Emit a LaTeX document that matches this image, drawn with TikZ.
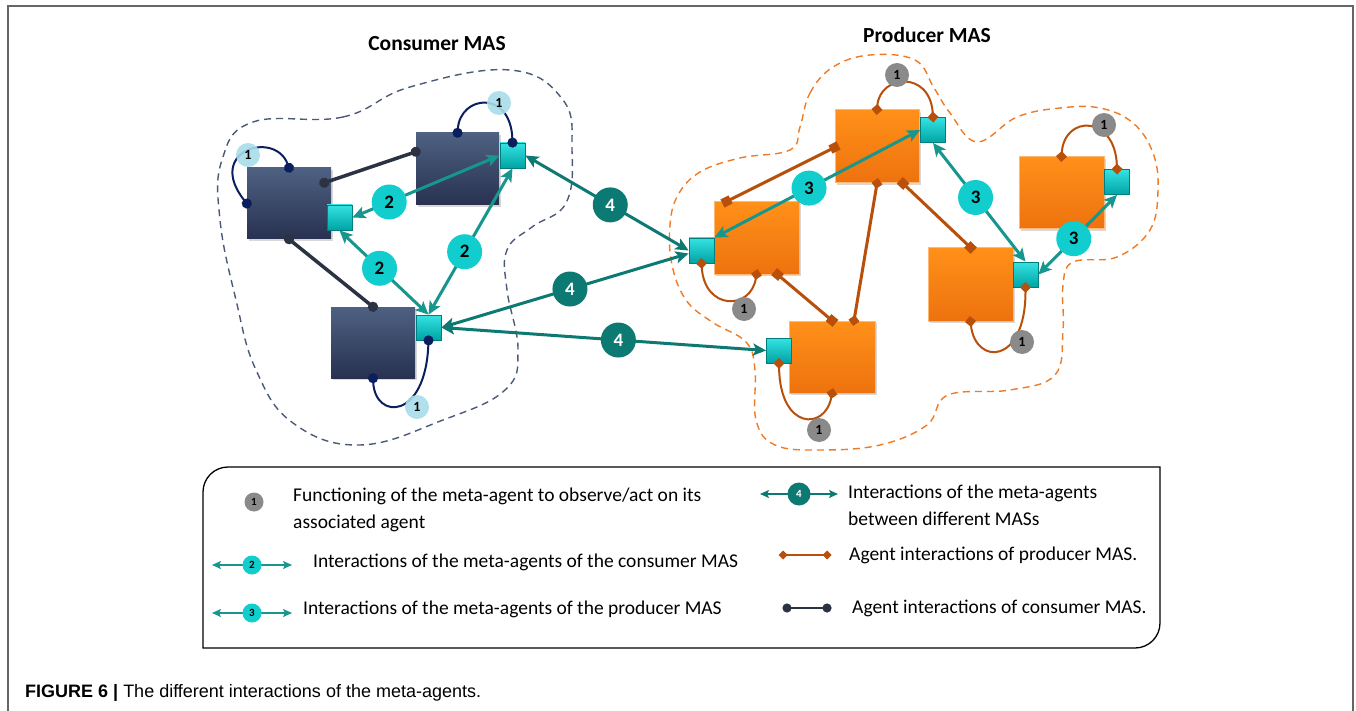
\documentclass[tikz,border=0pt]{standalone}
\usepackage{fontspec}
\setmainfont{Carlito}
\newfontfamily\capfont{Liberation Sans}
\usetikzlibrary{arrows.meta,shadows,calc}
\definecolor{cTop}{HTML}{4E6182}
\definecolor{cBot}{HTML}{283150}
\definecolor{cLink}{HTML}{2B3242}
\definecolor{cLoop}{HTML}{0B1F5E}
\definecolor{cOne}{HTML}{A8DDE9}
\definecolor{cBlob}{HTML}{4A5A78}
\definecolor{oTop}{HTML}{FF9019}
\definecolor{oBot}{HTML}{EE720E}
\definecolor{oEdge}{HTML}{FFB874}
\definecolor{pLink}{HTML}{B84F0A}
\definecolor{gOne}{HTML}{8A8A8A}
\definecolor{mTop}{HTML}{35E2E2}
\definecolor{mBot}{HTML}{00A4A4}
\definecolor{mEdge}{HTML}{007E7E}
\definecolor{tArrow}{HTML}{17968E}
\definecolor{tLab}{HTML}{11CDCD}
\definecolor{fArrow}{HTML}{0C7A72}
\definecolor{pBlob}{HTML}{F27A22}
\definecolor{frameC}{HTML}{666666}
\tikzset{
  cagent/.style={rectangle, minimum width=84pt, minimum height=71pt, inner sep=0pt,
    top color=cTop, bottom color=cBot, draw=none,
    drop shadow={shadow xshift=2pt, shadow yshift=-2pt, opacity=0.3}},
  pagent/.style={rectangle, minimum width=85pt, minimum height=72pt, inner sep=0pt,
    top color=oTop, bottom color=oBot, draw=oEdge, line width=1pt,
    drop shadow={shadow xshift=2pt, shadow yshift=-2pt, opacity=0.3}},
  meta/.style={rectangle, minimum size=25pt, inner sep=0pt, top color=mTop,
    bottom color=mBot, draw=mEdge, line width=0.8pt},
  lab/.style={circle, fill=tLab, minimum size=35pt, inner sep=0pt,
    font=\fontsize{19}{19}\selectfont\bfseries},
  labf/.style={lab, fill=fArrow, text=white},
  onec/.style={circle, fill=cOne, minimum size=24pt, inner sep=0pt,
    font=\fontsize{14}{14}\selectfont\bfseries},
  onep/.style={onec, fill=gOne},
  iarrow/.style={draw=tArrow, line width=3pt,
    {Stealth[length=13pt,width=12pt,inset=3pt]}-{Stealth[length=13pt,width=12pt,inset=3pt]}},
  farrow/.style={iarrow, draw=fArrow},
  clink/.style={cLink, line width=3.5pt, {Circle[length=10pt]}-{Circle[length=10pt]},
    shorten <=-5pt, shorten >=-5pt},
  cloop/.style={cLoop, line width=2pt, {Circle[length=10pt]}-{Circle[length=10pt]},
    shorten <=-5pt, shorten >=-5pt},
  psq/.style={pLink, line width=3pt, {Square[length=9pt,width=9pt]}-{Square[length=9pt,width=9pt]},
    shorten <=-4.5pt, shorten >=-4.5pt},
  pdia/.style={pLink, line width=3pt, {Turned Square[length=11pt,width=11pt]}-{Turned Square[length=11pt,width=11pt]},
    shorten <=-5.5pt, shorten >=-5.5pt},
  ploop/.style={pdia, line width=2pt},
  legtext/.style={anchor=west, inner sep=0pt, align=left, font=\fontsize{19.5}{27}\selectfont},
  leglab/.style={circle, minimum size=19pt, inner sep=0pt, font=\fontsize{11}{11}\selectfont\bfseries},
  legarrow/.style={line width=2pt,
    {Stealth[length=9pt,width=8pt,inset=2pt]}-{Stealth[length=9pt,width=8pt,inset=2pt]}},
  title/.style={font=\fontsize{21.5}{21.5}\selectfont\bfseries}
}
\begin{document}
\begin{tikzpicture}[x=1pt,y=-1pt]
\useasboundingbox (0,0) rectangle (1356,711);
\fill[white] (0,0) rectangle (1356,711);
% frame
\draw[frameC, line width=1.5pt] (8,711) -- (8,6) -- (1353,6) -- (1353,711);

% titles
\node[title] (tc) at (437,44) {Consumer MAS};
\node[title] (tp) at (927,35) {Producer MAS};

% blobs
\draw[cBlob, line width=1.4pt, dash pattern=on 7pt off 5pt]
  plot[smooth cycle, tension=0.7] coordinates {(253,122) (343,117) (410,87) (510,70) (563,100)
  (572,150) (566,203) (532,227) (507,250) (507,290) (518,350) (505,390) (443,420) (360,445)
  (293,423) (256,370) (236,300) (220,220) (222,160)};
\draw[pBlob, line width=1.4pt, dash pattern=on 7pt off 5pt]
  plot[smooth cycle, tension=0.65] coordinates {(800,127) (810,93) (833,67) (870,55) (915,60)
  (934,88) (950,113) (977,142) (1017,117) (1060,108) (1100,108) (1133,123) (1153,153)
  (1158,190) (1150,230) (1117,257) (1073,262) (1063,285) (1063,330) (1055,375) (1010,390)
  (948,395) (927,425) (880,445) (820,450) (775,445) (756,420) (755,370) (746,342) (712,322)
  (686,300) (672,265) (670,225) (678,195) (700,172) (740,158) (790,150)};

% consumer agents
\node[cagent] (C1) at (289,203.5) {};
\node[cagent, minimum width=83pt, minimum height=72pt] (C2) at (457.5,169) {};
\node[cagent] (C3) at (373,342.5) {};
% producer agents
\node[pagent, minimum width=84pt, minimum height=73pt] (P1) at (877,146.5) {};
\node[pagent] (P2) at (756.5,238) {};
\node[pagent] (P3) at (1061.5,193) {};
\node[pagent, minimum height=73pt] (P4) at (970.5,284.5) {};
\node[pagent, minimum width=86pt] (P5) at (832,357) {};

% meta agents
\node[meta] (M1) at (339.5,217.5) {};
\node[meta] (M2) at (512.5,155.5) {};
\node[meta] (M3) at (428.5,327.5) {};
\node[meta] (MP1) at (933,130) {};
\node[meta] (MP2) at (701.5,250.5) {};
\node[meta] (MP3) at (1117,182) {};
\node[meta] (MP4) at (1025.5,274.5) {};
\node[meta] (MP5) at (779,350.5) {};

% consumer agent links
\draw[clink] ($(C1.north east)+(-7,15)$) -- ($(C2.north west)+(0,19)$);
\draw[clink] (C1.south) -- (C3.north);
% producer agent links
\draw[psq] ($(P1.west)+(0,1)$) -- ($(P2.north west)+(13,0)$);
\draw[pdia] (P1.south) -- ($(P5.north)+(22,0)$);
\draw[psq] ($(P1.south)+(26,0)$) -- (P4.north);
\draw[psq] ($(P2.south)+(21,0)$) -- (P5.north);

% consumer loops
\draw[cloop] (C1.north) .. controls +(-14,-38) and +(-42,-53) .. (C1.west);
\draw[cloop] (C2.north) .. controls +(3,-38) and +(-2,-53) .. (M2.north);
\draw[cloop] (C3.south) .. controls +(2,42) and +(-3,80) .. (M3.south);
% producer loops
\draw[ploop] (P1.north) .. controls +(3,-35) and +(-3,-47) .. (MP1.north);
\draw[ploop] (MP2.south) .. controls +(3,47) and +(-6,36) .. (P2.south);
\draw[ploop] (P3.north) .. controls +(3,-42) and +(-2,-54) .. (MP3.north);
\draw[ploop] (P4.south) .. controls +(5,44) and +(0,78) .. (MP4.south);
\draw[ploop] (MP5.south) .. controls +(1,67) and +(-7,37) .. (P5.south);

% functioning markers
\node[onec, opacity=0.9, text opacity=1] (f1) at (248,155) {1};
\node[onec, opacity=0.9, text opacity=1] (f2) at (499,103) {1};
\node[onec, opacity=0.9, text opacity=1] (f3) at (417,407) {1};
\node[onep] (f4) at (897,75) {1};
\node[onep] (f5) at (744,309) {1};
\node[onep] (f6) at (1104,125) {1};
\node[onep] (f7) at (1022,342) {1};
\node[onep] (f8) at (819,430) {1};

% consumer meta interactions
\draw[iarrow] (M1.east) -- node[lab, pos=0.25] (l2a) {2} (M2.west);
\draw[iarrow] (M1.south) -- node[lab, pos=0.45] (l2b) {2} (M3.north);
\draw[iarrow] (M3.north) -- node[lab, pos=0.43] (l2c) {2} (M2.south);
% between MAS
\draw[farrow] (M2.east) -- node[labf, pos=0.52] (l4a) {4} (MP2.west);
\draw[farrow] (M3.east) -- node[labf, pos=0.52] (l4b) {4} ($(MP2.west)+(0,3)$);
\draw[farrow] (M3.east) -- node[labf, pos=0.545] (l4c) {4} (MP5.west);
% producer meta interactions
\draw[iarrow] (MP2.north east) -- node[lab, pos=0.46] (l3a) {3} (MP1.west);
\draw[iarrow] (MP1.south) -- node[lab, pos=0.46] (l3b) {3} (MP4.north);
\draw[iarrow] (MP3.south) -- node[lab, pos=0.55] (l3c) {3} (MP4.east);

% legend box
\draw[black, line width=1.3pt] (203,648) -- (203,492) arc[start angle=180,end angle=270,radius=25]
  -- (1160,467) -- (1160,623) arc[start angle=0,end angle=90,radius=25] -- cycle;

\node[leglab, fill=gOne] (k1) at (254,502) {1};
\node[legtext] (t1) at (293,509.5) {Functioning of the meta-agent to observe/act on its\\associated agent};

\coordinate (k2a) at (212,565);
\coordinate (k2b) at (292,565);
\draw[legarrow, draw=tArrow] (k2a) -- node[leglab, fill=tLab] (k2) {2} (k2b);
\node[legtext] (t2) at (313,562) {Interactions of the meta-agents of the consumer MAS};

\coordinate (k3a) at (212,613);
\coordinate (k3b) at (292,613);
\draw[legarrow, draw=tArrow] (k3a) -- node[leglab, fill=tLab] (k3) {3} (k3b);
\node[legtext] (t3) at (303,609) {Interactions of the meta-agents of the producer MAS};

\coordinate (k4a) at (760,494);
\coordinate (k4b) at (838,494);
\draw[legarrow, draw=fArrow] (k4a) -- node[leglab, fill=fArrow, text=white, minimum size=23pt] (k4) {4} (k4b);
\node[legtext] (t4) at (848,505) {Interactions of the meta-agents\\between different MASs};

\coordinate (k5a) at (783,555);
\coordinate (k5b) at (827,555);
\draw[pLink, line width=2.5pt, {Turned Square[length=9pt,width=9pt]}-{Turned Square[length=9pt,width=9pt]},
  shorten <=-4.5pt, shorten >=-4.5pt] (k5a) -- (k5b);
\node[legtext] (t5) at (849,555) {Agent interactions of producer MAS.};

\coordinate (k6a) at (787,608);
\coordinate (k6b) at (827,608);
\draw[cLink, line width=2.5pt, {Circle[length=9pt]}-{Circle[length=9pt]},
  shorten <=-4.5pt, shorten >=-4.5pt] (k6a) -- (k6b);
\node[legtext] (t6) at (852,608) {Agent interactions of consumer MAS.};

% caption
\node[anchor=west, inner sep=0pt, font=\capfont\fontsize{18}{18}\selectfont] (cap) at (25,693)
  {\textbf{FIGURE 6 |} The different interactions of the meta-agents.};
\end{tikzpicture}
\end{document}
